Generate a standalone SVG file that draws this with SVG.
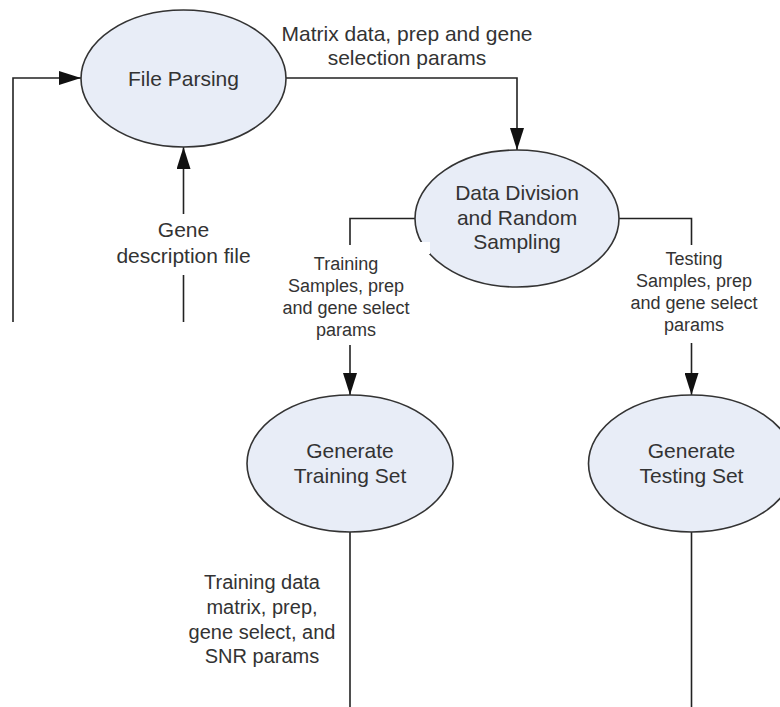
<svg xmlns="http://www.w3.org/2000/svg" width="780" height="707" viewBox="0 0 780 707">
  <style>
    .node ellipse { fill: #e8edf7; stroke: #333333; stroke-width: 1.6; }
    .node text { font-family: "Liberation Sans", Arial, sans-serif; font-size: 21px; fill: #333333; text-anchor: middle; }
    .conn { fill: none; stroke: #222222; stroke-width: 1.6; }
    .lbl { font-family: "Liberation Sans", Arial, sans-serif; fill: #333333; text-anchor: middle; }
    .big { font-size: 21px; }
    .mid { font-size: 20px; }
    .small { font-size: 18px; }
  </style>
  <defs>
    <marker id="arrow" markerUnits="userSpaceOnUse" markerWidth="22" markerHeight="14" refX="22" refY="7" orient="auto">
      <path d="M0,0 L22,7 L0,14 z" fill="#111111"/>
    </marker>
  </defs>
  <rect width="780" height="707" fill="#ffffff"/>

  <!-- connectors -->
  <g id="connectors">
    <path class="conn" d="M13,322 V78 H81" marker-end="url(#arrow)"/>
    <path class="conn" d="M183.5,214 V147" marker-end="url(#arrow)"/>
    <path class="conn" d="M183.5,322 V275"/>
    <path class="conn" d="M286,78 H517 V150" marker-end="url(#arrow)"/>
    <path class="conn" d="M415,218.5 H350 V245"/>
    <path class="conn" d="M350,345 V395" marker-end="url(#arrow)"/>
    <path class="conn" d="M619,218.5 H691.5 V245"/>
    <path class="conn" d="M691.5,343 V395" marker-end="url(#arrow)"/>
    <path class="conn" d="M350,532 V707"/>
    <path class="conn" d="M691.5,532 V707"/>
  </g>

  <!-- connector labels -->
  <g id="labels">
    <text class="lbl big" x="407" y="41">Matrix data, prep and gene</text>
    <text class="lbl big" x="407" y="65">selection params</text>
    <text class="lbl big" x="183.5" y="237">Gene</text>
    <text class="lbl big" x="183.5" y="263">description file</text>
    <text class="lbl small" x="346" y="270">Training</text>
    <text class="lbl small" x="346" y="292">Samples, prep</text>
    <text class="lbl small" x="346" y="314">and gene select</text>
    <text class="lbl small" x="346" y="336">params</text>
    <text class="lbl small" x="694" y="265">Testing</text>
    <text class="lbl small" x="694" y="287">Samples, prep</text>
    <text class="lbl small" x="694" y="309">and gene select</text>
    <text class="lbl small" x="694" y="331">params</text>
    <text class="lbl mid" x="262" y="589">Training data</text>
    <text class="lbl mid" x="262" y="614">matrix, prep,</text>
    <text class="lbl mid" x="262" y="639">gene select, and</text>
    <text class="lbl mid" x="262" y="663">SNR params</text>
  </g>

  <!-- nodes -->
  <g id="file-parsing" class="node">
    <ellipse cx="183.5" cy="78.5" rx="102.5" ry="68.5"/>
    <text x="183.5" y="86">File Parsing</text>
  </g>
  <g id="data-division" class="node">
    <ellipse cx="517" cy="218.5" rx="102" ry="68.5"/>
    <text x="517" y="200">Data Division</text>
    <text x="517" y="225">and Random</text>
    <text x="517" y="249">Sampling</text>
  </g>
  <!-- label backing that cuts into the ellipse outline -->
  <rect x="413" y="242" width="17" height="12" fill="#ffffff"/>
  <g id="generate-training" class="node">
    <ellipse cx="350" cy="463.5" rx="103" ry="68.5"/>
    <text x="350" y="458">Generate</text>
    <text x="350" y="483">Training Set</text>
  </g>
  <g id="generate-testing" class="node">
    <ellipse cx="691.5" cy="463.5" rx="103" ry="68.5"/>
    <text x="691.5" y="458">Generate</text>
    <text x="691.5" y="483">Testing Set</text>
  </g>
</svg>
